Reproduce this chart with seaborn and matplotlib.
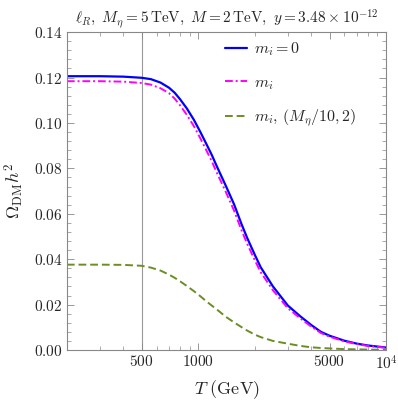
import numpy as np
import pandas as pd
import seaborn as sns
import matplotlib.pyplot as plt
from matplotlib.ticker import FixedLocator, MultipleLocator, NullFormatter

sns.set_style("ticks")
plt.rcParams["mathtext.fontset"] = "cm"
plt.rcParams["font.family"] = ["DejaVu Serif"]

# ── Data ─────────────────────────────────────────────────────────────────────
T_gev = [200, 300, 400, 500, 560, 630, 700, 750, 800, 870, 950, 1030, 1100,
         1180, 1260, 1400, 1550, 1700, 1820, 2000, 2150, 2500, 3000, 3500,
         4000, 4500, 5000, 6000, 7000, 8000, 10000]
omega_massless = [0.1206, 0.1206, 0.1204, 0.1199, 0.1193, 0.1178, 0.1155,
                  0.1133, 0.1105, 0.1064, 0.1013, 0.0958, 0.0911, 0.0860,
                  0.0807, 0.0725, 0.0643, 0.0555, 0.0495, 0.0420, 0.0365,
                  0.0280, 0.0196, 0.0148, 0.0110, 0.0080, 0.0063, 0.0041,
                  0.0028, 0.0020, 0.0011]
omega_massive = [0.1184, 0.1184, 0.1182, 0.1176, 0.1169, 0.1153, 0.1131,
                 0.1107, 0.1078, 0.1036, 0.0985, 0.0930, 0.0883, 0.0832,
                 0.0779, 0.0698, 0.0615, 0.0528, 0.0469, 0.0396, 0.0343,
                 0.0263, 0.0184, 0.0139, 0.0103, 0.0075, 0.0059, 0.0038,
                 0.0026, 0.0018, 0.0010]
omega_light = [0.0376, 0.0376, 0.0375, 0.0371, 0.0363, 0.0350, 0.0332,
               0.0318, 0.0303, 0.0282, 0.0259, 0.0236, 0.0216, 0.0196,
               0.0178, 0.0147, 0.0122, 0.0101, 0.0086, 0.0068, 0.0057,
               0.0040, 0.0028, 0.0018, 0.0012, 0.0009, 0.0007, 0.0004,
               0.0003, 0.0002, 0.0001]

labels = [r"$m_i = 0$", r"$m_i$", r"$m_i,\,(M_\eta/10, 2)$"]
colors = ["#0000ff", "#ff00ff", "#6b8e23"]
styles = ["-", (0, (4, 1.5, 1, 1.5)), (0, (4, 2))]

df = pd.DataFrame({
    "T": T_gev * 3,
    "omega": omega_massless + omega_massive + omega_light,
    "case": [labels[0]] * len(T_gev) + [labels[1]] * len(T_gev) + [labels[2]] * len(T_gev),
})

fig = plt.figure(figsize=(3.98, 4.07), dpi=100)
ax = fig.add_axes([0.168, 0.140, 0.802, 0.781])

ax.axvline(500, color="#999999", lw=0.8, zorder=0)

for lab, col, ls, lw in zip(labels, colors, styles, [1.6, 1.4, 1.4]):
    sns.lineplot(data=df[df["case"] == lab], x="T", y="omega", color=col,
                 linestyle=ls, lw=lw, label=lab, ax=ax)

ax.set_xscale("log")
ax.set_xlim(200, 10000)
ax.set_ylim(0, 0.14)

ax.xaxis.set_major_locator(FixedLocator([500, 1000, 5000, 10000]))
ax.set_xticklabels([r"$500$", r"$1000$", r"$5000$", r"$10^4$"])
minor_x = [200, 300, 400, 600, 700, 800, 900, 2000, 3000, 4000, 6000, 7000, 8000, 9000]
ax.xaxis.set_minor_locator(FixedLocator(minor_x))
ax.xaxis.set_minor_formatter(NullFormatter())

ax.yaxis.set_major_locator(MultipleLocator(0.02))
ax.yaxis.set_minor_locator(MultipleLocator(0.004))
ax.set_yticklabels([rf"${v:.2f}$" for v in ax.get_yticks()])

ax.tick_params(which="both", direction="in", top=True, right=True,
               color="#888888", labelsize=11, pad=3)
ax.tick_params(which="major", length=5, width=0.6)
ax.tick_params(which="minor", length=3, width=0.5)
for sp in ax.spines.values():
    sp.set_color("#888888")
    sp.set_linewidth(0.8)

ax.set_xlabel(r"$T\ (\mathrm{GeV})$", fontsize=13, labelpad=4)
ax.set_ylabel(r"$\Omega_{\mathrm{DM}} h^2$", fontsize=13, labelpad=6)
ax.set_title(r"$\ell_R,\ M_\eta = 5\,\mathrm{TeV},\ M = 2\,\mathrm{TeV},\ y = 3.48 \times 10^{-12}$",
             fontsize=11, pad=6)

ax.legend(loc="upper left", frameon=False, fontsize=11.5, handlelength=1.4,
          handletextpad=0.45, labelspacing=1.0, borderaxespad=0, borderpad=0,
          bbox_to_anchor=(0.495, 0.975))

fig.savefig("out.png", dpi=100)
